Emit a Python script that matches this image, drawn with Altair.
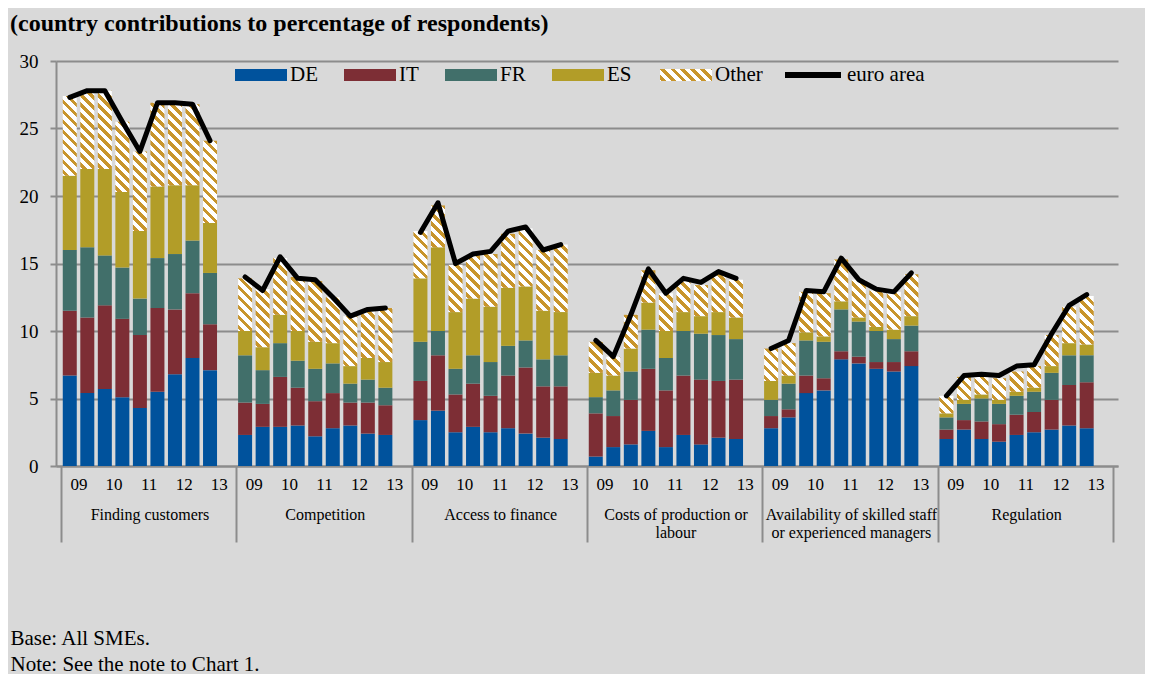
import json
import altair as alt

# ---------------- data ----------------
GROUP_LINES = [
    ["Finding customers"],
    ["Competition"],
    ["Access to finance"],
    ["Costs of production or", "labour"],
    ["Availability of skilled staff", "or experienced managers"],
    ["Regulation"],
]
YEAR_LABELS = ["09", "10", "11", "12", "13"]
SERIES = ["DE", "IT", "FR", "ES", "Other"]

DE = [
    [6.7, 5.4, 5.7, 5.1, 4.3, 5.5, 6.8, 8.0, 7.1],
    [2.3, 2.9, 2.9, 3.0, 2.2, 2.8, 3.0, 2.4, 2.3],
    [3.4, 4.1, 2.5, 2.9, 2.5, 2.8, 2.4, 2.1, 2.0],
    [0.7, 1.4, 1.6, 2.6, 1.4, 2.3, 1.6, 2.1, 2.0],
    [2.8, 3.6, 5.4, 5.6, 7.9, 7.6, 7.2, 7.0, 7.4],
    [2.0, 2.7, 2.0, 1.8, 2.3, 2.5, 2.7, 3.0, 2.8],
]
IT = [
    [4.8, 5.6, 6.2, 5.8, 5.4, 6.2, 4.8, 4.8, 3.4],
    [2.4, 1.7, 3.7, 2.8, 2.6, 2.6, 1.7, 2.3, 2.2],
    [2.9, 4.1, 2.8, 3.2, 2.7, 3.9, 4.9, 3.8, 3.9],
    [3.2, 2.3, 3.3, 4.6, 4.2, 4.4, 4.8, 4.2, 4.4],
    [0.9, 0.6, 1.3, 0.9, 0.6, 0.5, 0.5, 0.7, 1.1],
    [0.7, 0.7, 1.3, 1.3, 1.5, 1.5, 2.2, 3.0, 3.4],
]
FR = [
    [4.5, 5.2, 3.7, 3.8, 2.7, 3.7, 4.1, 3.9, 3.8],
    [3.5, 2.5, 2.5, 2.0, 2.4, 2.2, 1.4, 1.7, 1.3],
    [2.9, 1.8, 1.9, 2.1, 2.5, 2.2, 2.0, 2.0, 2.3],
    [1.2, 1.9, 2.1, 2.9, 2.4, 3.3, 3.4, 3.4, 3.0],
    [1.2, 1.9, 2.6, 2.7, 3.1, 2.6, 2.3, 1.7, 1.9],
    [0.9, 1.2, 1.7, 1.5, 1.4, 1.5, 2.0, 2.2, 2.0],
]
ES = [
    [5.5, 5.8, 6.4, 5.6, 5.0, 5.3, 5.1, 4.1, 3.7],
    [1.8, 1.7, 2.1, 2.2, 2.0, 1.5, 1.3, 1.6, 1.9],
    [4.7, 6.2, 4.2, 4.2, 4.1, 4.3, 4.0, 3.6, 3.2],
    [1.8, 1.1, 1.7, 2.0, 2.0, 1.4, 1.3, 1.7, 1.6],
    [1.4, 0.6, 0.6, 0.4, 0.6, 0.3, 0.3, 0.7, 0.7],
    [0.3, 0.3, 0.3, 0.3, 0.3, 0.3, 0.5, 0.9, 0.8],
]
OTHER = [
    [5.9, 5.7, 5.8, 5.2, 5.9, 6.2, 6.0, 6.0, 6.1],
    [3.9, 4.3, 4.2, 4.0, 4.5, 3.4, 3.7, 3.6, 4.0],
    [3.5, 3.1, 3.5, 3.2, 3.9, 4.0, 4.3, 4.5, 5.0],
    [2.3, 1.4, 2.5, 2.4, 2.8, 2.3, 2.3, 2.9, 2.8],
    [2.4, 2.4, 3.0, 3.2, 3.1, 2.8, 2.7, 2.8, 3.1],
    [1.3, 1.7, 1.3, 1.6, 1.5, 1.6, 2.3, 2.7, 3.6],
]
EURO = [
    [27.3, 27.8, 27.8, 25.5, 23.3, 26.9, 26.9, 26.8, 24.1],
    [14.0, 13.0, 15.5, 13.9, 13.8, 12.5, 11.1, 11.6, 11.7],
    [17.3, 19.5, 15.0, 15.7, 15.9, 17.4, 17.7, 16.0, 16.4],
    [9.3, 8.1, 11.2, 14.6, 12.8, 13.9, 13.6, 14.4, 13.9],
    [8.7, 9.3, 13.0, 12.9, 15.4, 13.8, 13.1, 12.9, 14.3],
    [5.2, 6.7, 6.8, 6.7, 7.4, 7.5, 9.8, 11.9, 12.7],
]

# ---------------- styling ----------------
SERIF = "Liberation Serif"
BG = "#D9D9D9"
GRID = "#8C8C8C"
COLORS = ["#00529C", "#7D2E35", "#416F6A", "#B29D28"]
GOLD = "#C8952C"
WHITE = "#FFFFFF"
PLOT_W, PLOT_H = 1062, 405
Y_MAX = 30
SLOTS = 60
BAR_W = 14
PERIOD, GOLD_W, PHASE = 10.0, 4.8, 2.0


def hatch(w, h):
    """Diagonal stripe fill as a bbox linear gradient (stripes at 45 degrees)."""
    L = w + h
    k = L / (w * w + h * h)
    stops = [{"offset": 0, "color": WHITE}]
    m = PHASE
    while m < L:
        a = round(m / L, 4)
        b = round(min((m + GOLD_W) / L, 1.0), 4)
        stops += [{"offset": a, "color": WHITE}, {"offset": a, "color": GOLD},
                  {"offset": b, "color": GOLD}, {"offset": b, "color": WHITE}]
        m += PERIOD
    stops.append({"offset": 1, "color": WHITE})
    return {"gradient": "linear", "x1": 0, "y1": 1,
            "x2": round(k * w, 4), "y2": round(1 - k * h, 4), "stops": stops}


def js_obj(o):
    if isinstance(o, dict):
        return "{" + ",".join(f"{k}:{js_obj(v)}" for k, v in o.items()) + "}"
    if isinstance(o, list):
        return "[" + ",".join(js_obj(v) for v in o) + "]"
    if isinstance(o, str):
        return "'" + o + "'"
    return str(o)


px_per_unit = PLOT_H / Y_MAX
bar_rows = []
line_rows = []
tables = [DE, IT, FR, ES, OTHER]
for g in range(6):
    for i in range(9):
        xc = g * 10 + i + 0.5
        for order, (name, tab) in enumerate(zip(SERIES, tables)):
            row = {"xc": xc, "seg": name, "order": order, "value": tab[g][i]}
            if name == "Other":
                row["hatch"] = hatch(BAR_W, tab[g][i] * px_per_unit)
            bar_rows.append(row)
        line_rows.append({"xc": xc, "ea": EURO[g][i], "grp": g, "series": "euro area"})

xs = alt.Scale(domain=[0, SLOTS], nice=False, zero=False)
ys = alt.Scale(domain=[0, Y_MAX], nice=False)

y_axis = alt.Axis(values=list(range(0, 31, 5)), title=None, grid=True, gridColor=GRID,
                  gridWidth=2, domainColor=GRID, domainWidth=2, tickColor=GRID,
                  tickWidth=2, tickSize=6, labelFont=SERIF, labelFontSize=19,
                  labelColor="black", labelPadding=12)

year_axis = alt.Axis(
    orient="bottom", values=[g * 10 + 1 + 2 * k for g in range(6) for k in range(5)],
    labelExpr=f"{json.dumps(YEAR_LABELS)}[((datum.value % 10) - 1) / 2]",
    ticks=False, grid=False, domainColor=GRID, domainWidth=2, labelFont=SERIF,
    labelFontSize=17, labelColor="black", labelPadding=10, labelFlush=False,
    labelOverlap=False, title=None)

group_axis = alt.Axis(
    orient="bottom", values=list(range(0, SLOTS + 1, 10)),
    labelExpr=f"{json.dumps(GROUP_LINES + [['']])}[datum.value / 10]",
    ticks=True, tickSize=76, tickColor=GRID, tickWidth=2, domain=False, grid=False,
    labelOffset=PLOT_W / 12, labelPadding=-36, labelFont=SERIF, labelFontSize=16,
    labelLineHeight=18, labelColor="black", labelFlush=False, labelOverlap=False,
    labelBound=False,
    title=["Base: All SMEs.", "Note: See the note to Chart 1."],
    titleX=-46, titleY=161, titleAlign="left", titleAnchor="start", titleBaseline="top",
    titleFont=SERIF, titleFontSize=21, titleFontWeight="normal", titleLineHeight=26,
    titleColor="black")

RECT = "M-1,-0.2308H1V0.2308H-1Z"
leg_common = dict(title=None, orient="none", direction="horizontal",
                  labelFont=SERIF, labelFontSize=21, labelColor="black", labelOffset=3,
                  columnPadding=26)

base = alt.Chart(alt.Data(values=bar_rows)).transform_stack(
    stack="value", groupby=["xc"], sort=[alt.SortField("order", order="ascending")],
    as_=["y0", "y1"])

countries = base.transform_filter("datum.seg != 'Other'").mark_bar(size=BAR_W).encode(
    x=alt.X("xc:Q", scale=xs, axis=year_axis),
    y=alt.Y("y0:Q", scale=ys, axis=y_axis),
    y2="y1:Q",
    color=alt.Color("seg:N", scale=alt.Scale(domain=SERIES[:4], range=COLORS),
                    legend=alt.Legend(legendX=179, legendY=-12, symbolType=RECT,
                                      symbolSize=2704, symbolStrokeWidth=0,
                                      symbolOpacity=1, **leg_common)),
)

legend_hatch = hatch(52, 12)
others = base.transform_filter("datum.seg == 'Other'").mark_bar(size=BAR_W).encode(
    x=alt.X("xc:Q", scale=xs, axis=None),
    y=alt.Y("y0:Q", scale=ys, axis=y_axis),
    y2="y1:Q",
    fill=alt.Fill("hatch:N", scale=None, legend=None),
    opacity=alt.Opacity("seg:N", scale=alt.Scale(domain=["Other"], range=[1]),
                        legend=alt.Legend(legendX=604, legendY=-12, symbolType=RECT,
                                          symbolSize=2704, symbolStrokeWidth=0,
                                          symbolOpacity=1,
                                          symbolFillColor={"expr": js_obj(legend_hatch)},
                                          **leg_common)),
)

line = alt.Chart(alt.Data(values=line_rows)).mark_line(
    strokeWidth=5, strokeJoin="round", strokeCap="round").encode(
    x=alt.X("xc:Q", scale=xs, axis=group_axis),
    y=alt.Y("ea:Q", scale=ys, axis=y_axis),
    detail="grp:N",
    stroke=alt.Stroke("series:N", scale=alt.Scale(domain=["euro area"], range=["black"]),
                      legend=alt.Legend(legendX=726, legendY=-17, symbolType="stroke",
                                        symbolSize=3136, symbolStrokeWidth=6,
                                        **leg_common)),
)

chart = alt.layer(countries, others, line).resolve_axis(x="independent").properties(
    width=PLOT_W, height=PLOT_H,
    padding={"left": 48, "top": 53, "right": 27, "bottom": 208},
    autosize=alt.AutoSizeParams(type="none"),
    title=alt.TitleParams(
        text="(country contributions to percentage of respondents)", anchor="start",
        frame="group", dx=-46, offset=8, font=SERIF, fontSize=24, fontWeight="bold",
        color="black"),
).configure(background=BG).configure_view(strokeWidth=0)

chart.save("out.html", embed_options={"renderer": "svg", "actions": False})
